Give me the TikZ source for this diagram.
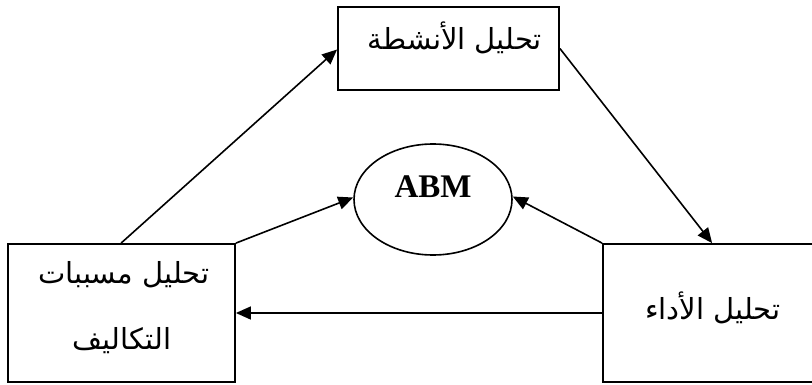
\documentclass[tikz,border=0pt]{standalone}
\usepackage{fontspec}
\setmainfont{Liberation Serif}
\newfontfamily\arabicfont[Script=Arabic]{DejaVu Sans}
\TeXXeTstate=1
\usetikzlibrary{arrows.meta,shapes.geometric}
\begin{document}
\begin{tikzpicture}[x=1pt,y=-1pt,
  box/.style={draw,line width=1.8pt,rectangle,inner sep=0pt},
  oval/.style={draw,line width=1.6pt,ellipse,inner sep=0pt},
  label/.style={font=\arabicfont\fontsize{29}{33}\selectfont,inner sep=0pt},
  link/.style={line width=1.6pt,-{Triangle[length=15pt,width=13pt]}}]
  \useasboundingbox (0,0) rectangle (812,385);
  % boxes
  \node[box,minimum width=221pt,minimum height=83pt] (act) at (448.5,48.5) {};
  \node[box,minimum width=227pt,minimum height=138pt] (cost) at (121.5,313) {};
  \node[box,minimum width=212pt,minimum height=138pt] (perf) at (709,313) {};
  \node[oval,minimum width=158pt,minimum height=111pt] (abm) at (433,199.5) {};
  % texts
  \node[label] (actT) at (455,38) {\beginR تحليل الأنشطة\endR};
  \node[label] (costA) at (124,275) {\beginR تحليل مسببات\endR};
  \node[label] (costB) at (122,341) {\beginR التكاليف\endR};
  \node[label] (perfT) at (713,308) {\beginR تحليل الأداء\endR};
  \node[font=\bfseries\fontsize{33}{37}\selectfont,inner sep=0pt] (abmT) at (433,187) {ABM};
  % connectors
  \draw[link] ([xshift=114pt]cost.north west) -- ([yshift=-1pt]act.west);
  \draw[link] (cost.north east) -- ([yshift=2pt]abm.west);
  \draw[link] (act.east) -- ([xshift=110pt]perf.north west);
  \draw[link] (perf.north west) -- ([yshift=3pt]abm.east);
  \draw[link] (perf.west) -- (cost.east);
\end{tikzpicture}
\end{document}
